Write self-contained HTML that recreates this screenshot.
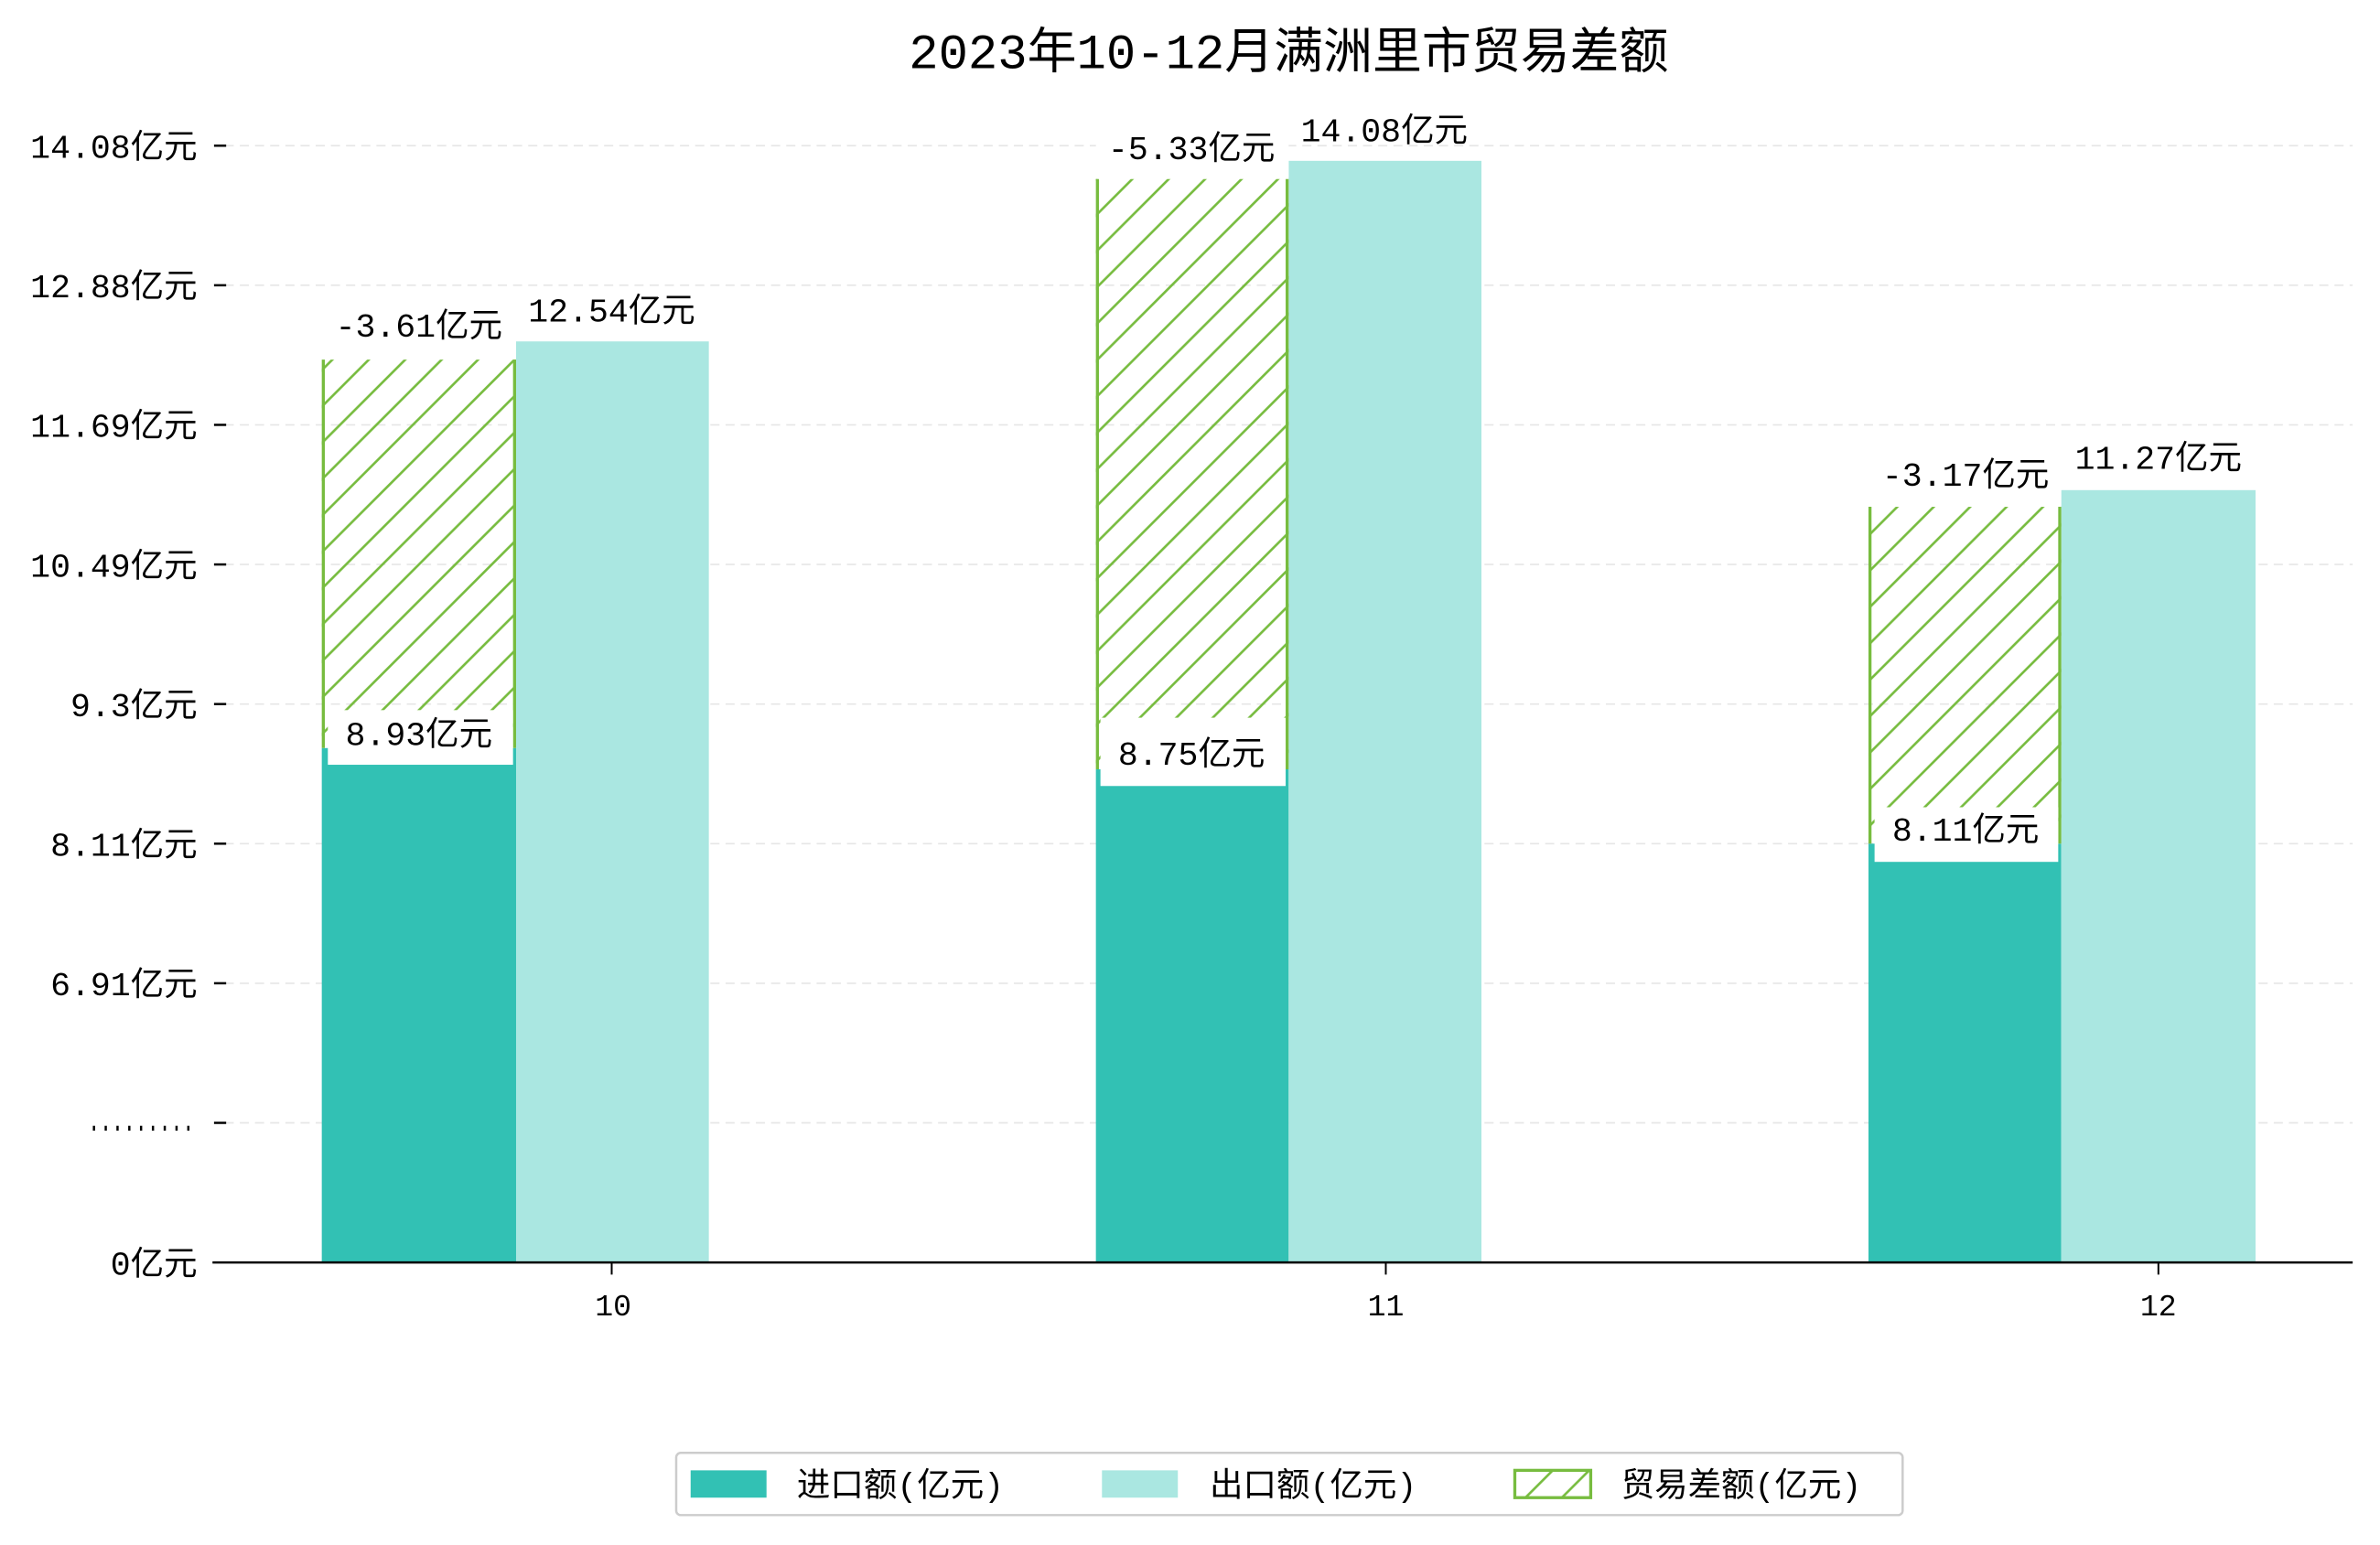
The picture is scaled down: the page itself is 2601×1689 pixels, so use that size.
<!DOCTYPE html>
<html><head><meta charset="utf-8"><style>
html,body{margin:0;padding:0;background:#fff;}
svg{display:block;}
text{font-family:"Liberation Mono","WenQuanYi Zen Hei","Noto Sans CJK SC",monospace;fill:#000;}
</style></head><body>
<svg width="2601" height="1689" viewBox="0 0 1568 1018" preserveAspectRatio="xMinYMin meet" xmlns="http://www.w3.org/2000/svg">
<defs>
<pattern id="h" patternUnits="userSpaceOnUse" width="24" height="24">
<path d="M-6,6 L6,-6 M0,24 L24,0 M18,30 L30,18" stroke="#77bc3f" stroke-width="1.6"/>
</pattern>
</defs>
<rect width="1568" height="1018" fill="#fff"/>
<text x="849" y="45" font-size="32.5" text-anchor="middle">2023年10-12月满洲里市贸易差额</text>
<g stroke="#e6e6e6" stroke-width="1" stroke-dasharray="6,4">
<line x1="148" y1="96" x2="1550" y2="96"/><line x1="148" y1="188" x2="1550" y2="188"/>
<line x1="148" y1="280" x2="1550" y2="280"/><line x1="148" y1="372" x2="1550" y2="372"/>
<line x1="148" y1="464" x2="1550" y2="464"/><line x1="148" y1="556" x2="1550" y2="556"/>
<line x1="148" y1="648" x2="1550" y2="648"/><line x1="148" y1="740" x2="1550" y2="740"/>
</g>
<g stroke="#000" stroke-width="1.5">
<line x1="141" y1="96" x2="149" y2="96"/><line x1="141" y1="188" x2="149" y2="188"/>
<line x1="141" y1="280" x2="149" y2="280"/><line x1="141" y1="372" x2="149" y2="372"/>
<line x1="141" y1="464" x2="149" y2="464"/><line x1="141" y1="556" x2="149" y2="556"/>
<line x1="141" y1="648" x2="149" y2="648"/><line x1="141" y1="740" x2="149" y2="740"/>
</g>
<g font-size="22" text-anchor="end">
<text x="130" y="104">14.08亿元</text><text x="130" y="196">12.88亿元</text>
<text x="130" y="288">11.69亿元</text><text x="130" y="380">10.49亿元</text>
<text x="130" y="472">9.3亿元</text><text x="130" y="564">8.11亿元</text>
<text x="130" y="656">6.91亿元</text>
<text x="130" y="840">0亿元</text>
</g>
<text x="58" y="745" font-size="22" textLength="70" lengthAdjust="spacingAndGlyphs">.........</text>
<g fill="#32c1b4">
<rect x="212" y="493" width="128" height="339"/>
<rect x="722" y="507" width="127" height="325"/>
<rect x="1231" y="556" width="127" height="276"/>
</g>
<g fill="#aae7e1">
<rect x="340" y="225" width="127" height="607"/>
<rect x="849" y="106" width="127" height="726"/>
<rect x="1358" y="323" width="128" height="509"/>
</g>
<g fill="url(#h)">
<rect x="212" y="237" width="128" height="256"/>
<rect x="722" y="118" width="127" height="389"/>
<rect x="1231" y="334" width="127" height="222"/>
</g>
<g stroke="#77bc3f" stroke-width="2">
<line x1="213" y1="237" x2="213" y2="493"/><line x1="339" y1="237" x2="339" y2="493"/>
<line x1="723" y1="118" x2="723" y2="507"/><line x1="848" y1="118" x2="848" y2="507"/>
<line x1="1232" y1="334" x2="1232" y2="556"/><line x1="1357" y1="334" x2="1357" y2="556"/>
</g>
<g fill="#fff">
<rect x="216" y="468" width="122" height="36"/>
<rect x="725" y="473" width="122" height="45"/>
<rect x="1235" y="532" width="121" height="36"/>
<rect x="212" y="200" width="128" height="36"/>
<rect x="722" y="80" width="127" height="37"/>
<rect x="1231" y="296" width="127" height="37"/>
</g>
<g font-size="22" text-anchor="middle">
<text x="276" y="222">-3.61亿元</text><text x="403" y="212">12.54亿元</text>
<text x="276" y="491">8.93亿元</text>
<text x="785" y="105">-5.33亿元</text><text x="912" y="93">14.08亿元</text>
<text x="785" y="504">8.75亿元</text>
<text x="1295" y="320">-3.17亿元</text><text x="1422" y="309">11.27亿元</text>
<text x="1295" y="554">8.11亿元</text>
</g>
<line x1="140" y1="832" x2="1550" y2="832" stroke="#000" stroke-width="1.5"/>
<g stroke="#000" stroke-width="1.2">
<line x1="403" y1="832" x2="403" y2="840"/><line x1="913" y1="832" x2="913" y2="840"/><line x1="1422" y1="832" x2="1422" y2="840"/>
</g>
<g font-size="20" text-anchor="middle">
<text x="404" y="867">10</text><text x="913" y="867">11</text><text x="1422" y="867">12</text>
</g>
<rect x="445.5" y="957.5" width="808" height="41" rx="3" fill="#fff" stroke="#cccccc" stroke-width="1.5"/>
<rect x="455" y="969" width="50" height="18" fill="#32c1b4"/>
<rect x="726" y="969" width="50" height="18" fill="#aae7e1"/>
<rect x="998" y="969" width="50" height="18" fill="url(#h)" stroke="#77bc3f" stroke-width="2"/>
<g font-size="22">
<text x="525" y="986">进口额(亿元)</text>
<text x="797" y="986">出口额(亿元)</text>
<text x="1068" y="986">贸易差额(亿元)</text>
</g>
</svg>
</body></html>
